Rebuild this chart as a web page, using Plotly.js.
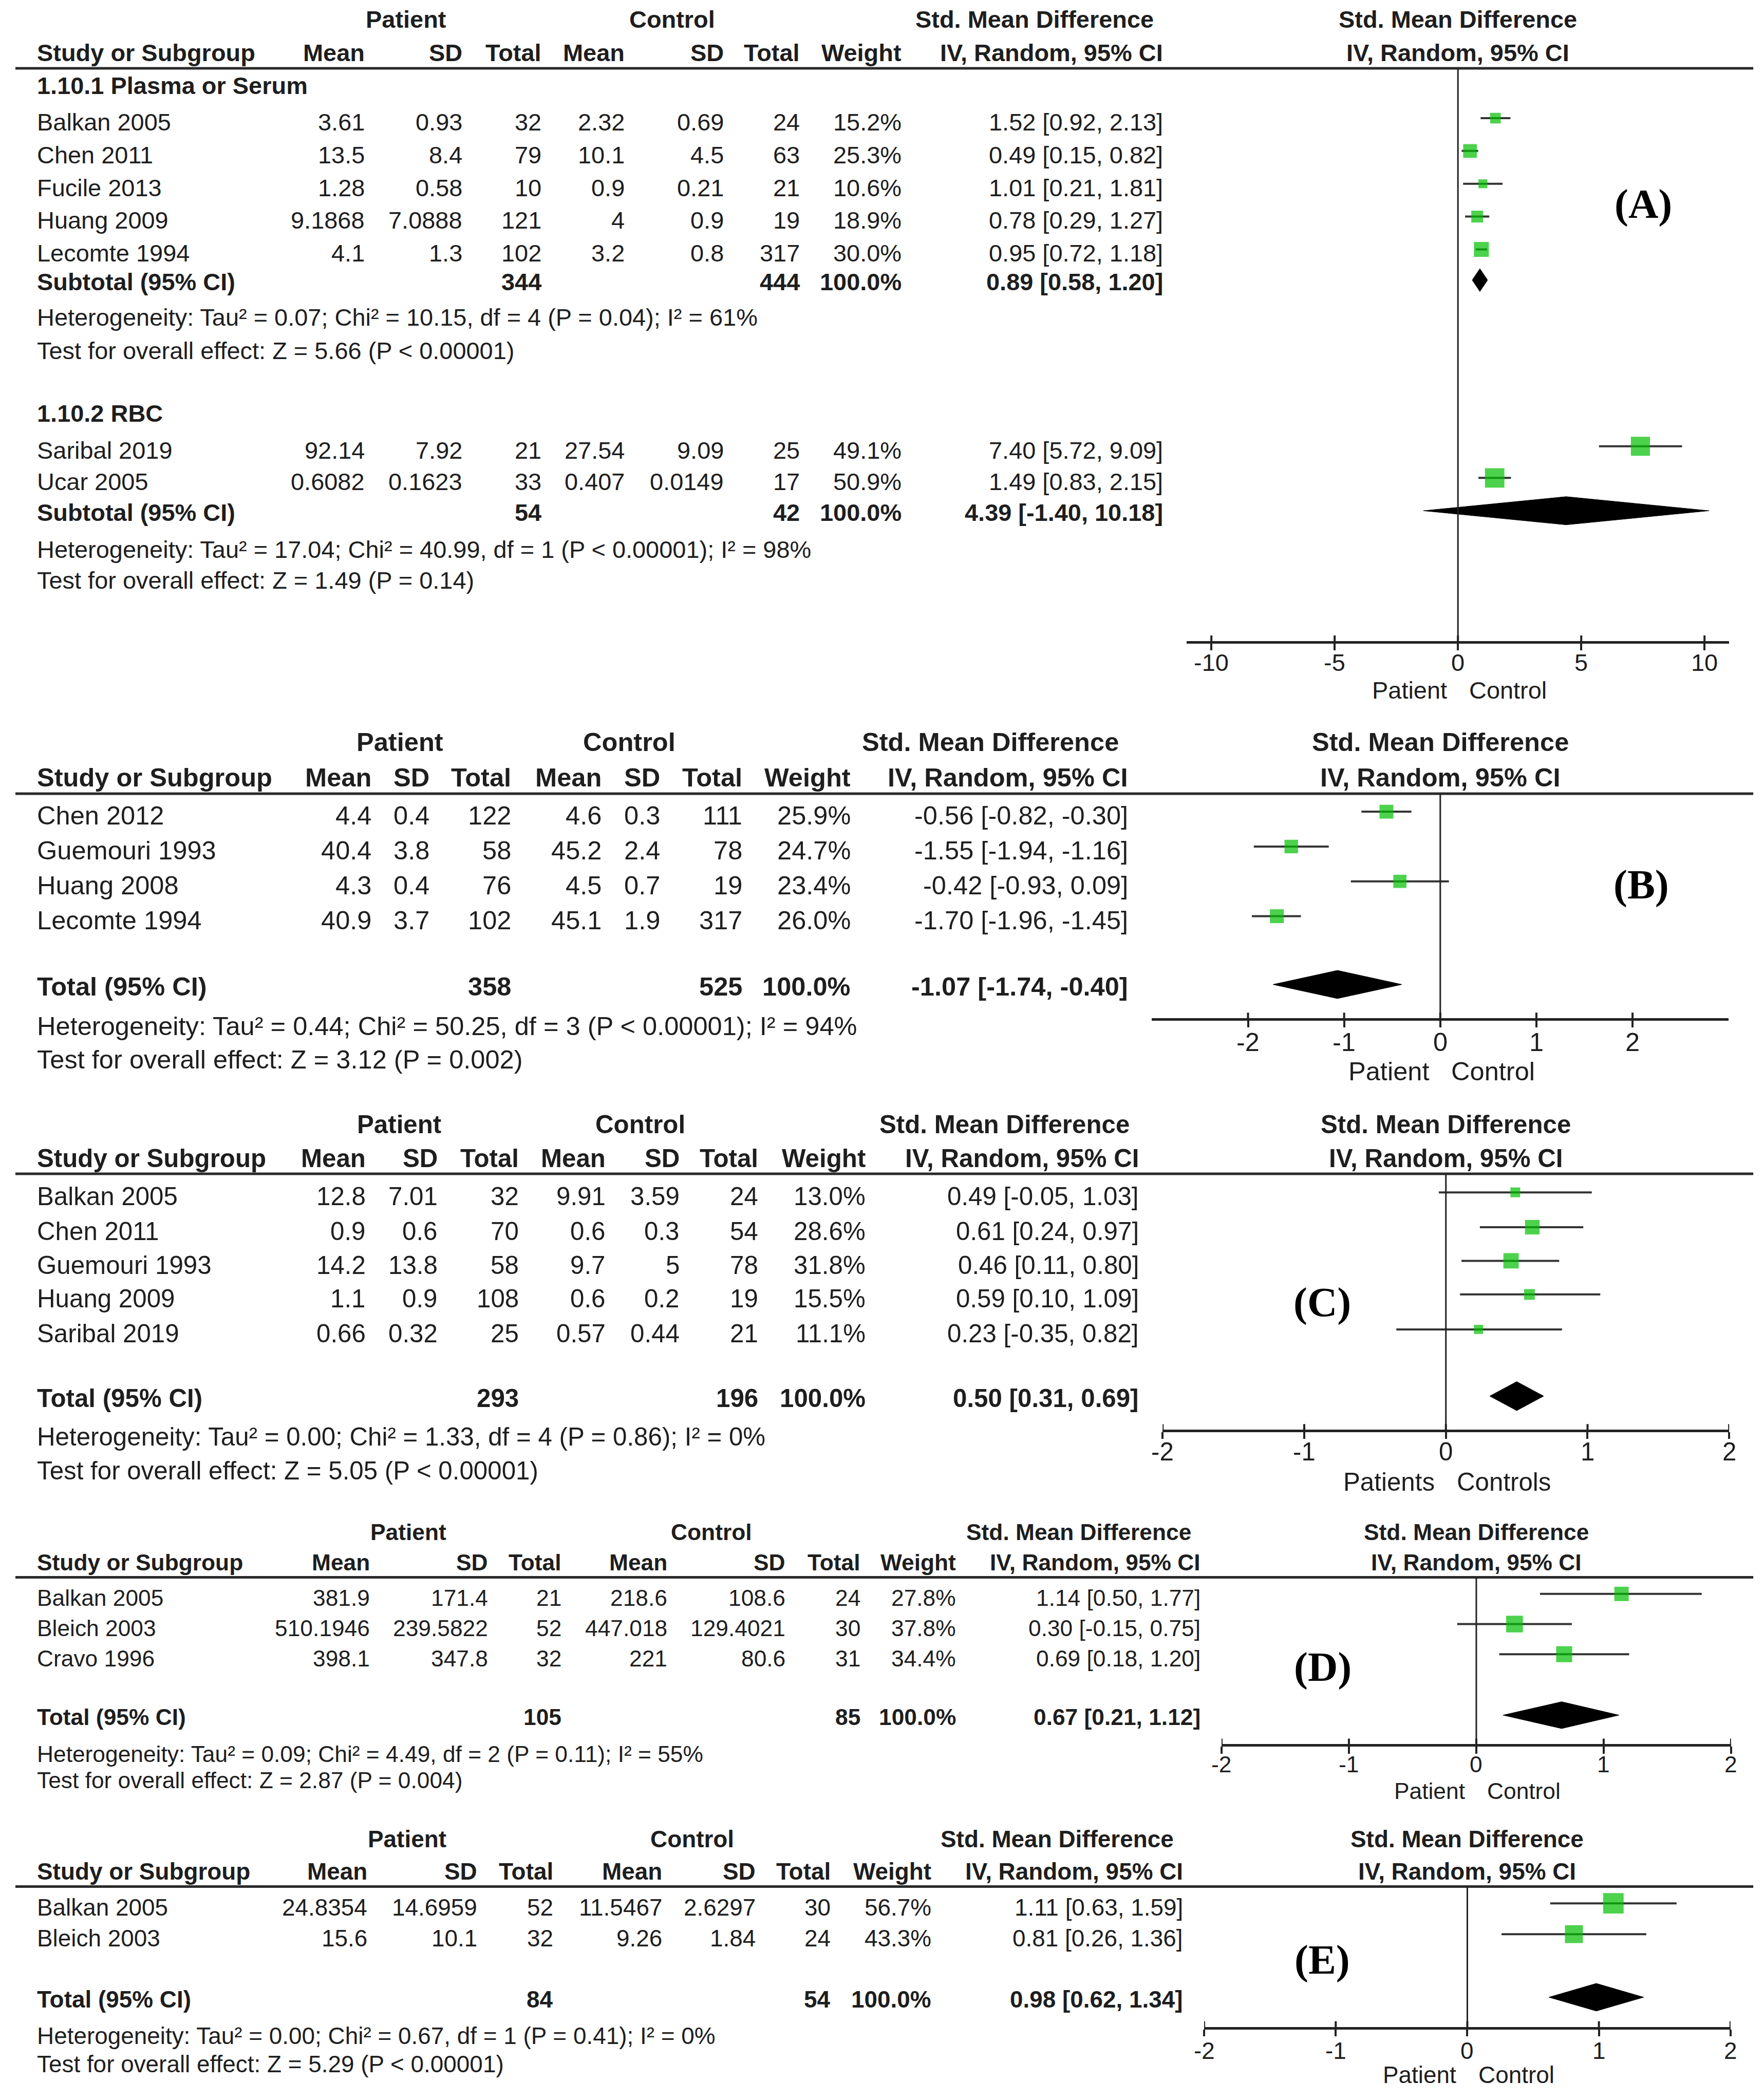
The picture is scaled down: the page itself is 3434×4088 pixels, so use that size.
<!DOCTYPE html>
<html><head><meta charset="utf-8">
<script src="https://cdn.plot.ly/plotly-3.0.1.min.js"></script>
<style>html,body{margin:0;padding:0;background:#fff}</style>
</head><body><div id="chart" style="width:3434px;height:4088px"></div>
<script>
// ===================== DATA =====================
// Panel A, subgroup 1.10.1
const A1_label = '1.10.1 Plasma or Serum';
const A1_study = ['Balkan 2005','Chen 2011','Fucile 2013','Huang 2009','Lecomte 1994'];
const A1_pMean = ['3.61','13.5','1.28','9.1868','4.1'];
const A1_pSD   = ['0.93','8.4','0.58','7.0888','1.3'];
const A1_pN    = [32,79,10,121,102];
const A1_cMean = ['2.32','10.1','0.9','4','3.2'];
const A1_cSD   = ['0.69','4.5','0.21','0.9','0.8'];
const A1_cN    = [24,63,21,19,317];
const A1_weight= [15.2,25.3,10.6,18.9,30.0];
const A1_smd   = [1.52,0.49,1.01,0.78,0.95];
const A1_lo    = [0.92,0.15,0.21,0.29,0.72];
const A1_hi    = [2.13,0.82,1.81,1.27,1.18];
const A1_pooled= [0.89,0.58,1.20];
const A1_het   = 'Heterogeneity: Tau² = 0.07; Chi² = 10.15, df = 4 (P = 0.04); I² = 61%';
const A1_test  = 'Test for overall effect: Z = 5.66 (P < 0.00001)';

// Panel A, subgroup 1.10.2
const A2_label = '1.10.2 RBC';
const A2_study = ['Saribal 2019','Ucar 2005'];
const A2_pMean = ['92.14','0.6082'];
const A2_pSD   = ['7.92','0.1623'];
const A2_pN    = [21,33];
const A2_cMean = ['27.54','0.407'];
const A2_cSD   = ['9.09','0.0149'];
const A2_cN    = [25,17];
const A2_weight= [49.1,50.9];
const A2_smd   = [7.40,1.49];
const A2_lo    = [5.72,0.83];
const A2_hi    = [9.09,2.15];
const A2_pooled= [4.39,-1.40,10.18];
const A2_het   = 'Heterogeneity: Tau² = 17.04; Chi² = 40.99, df = 1 (P < 0.00001); I² = 98%';
const A2_test  = 'Test for overall effect: Z = 1.49 (P = 0.14)';

// Panel B
const B_study = ['Chen 2012','Guemouri 1993','Huang 2008','Lecomte 1994'];
const B_pMean = ['4.4','40.4','4.3','40.9'];
const B_pSD   = ['0.4','3.8','0.4','3.7'];
const B_pN    = [122,58,76,102];
const B_cMean = ['4.6','45.2','4.5','45.1'];
const B_cSD   = ['0.3','2.4','0.7','1.9'];
const B_cN    = [111,78,19,317];
const B_weight= [25.9,24.7,23.4,26.0];
const B_smd   = [-0.56,-1.55,-0.42,-1.70];
const B_lo    = [-0.82,-1.94,-0.93,-1.96];
const B_hi    = [-0.30,-1.16,0.09,-1.45];
const B_pooled= [-1.07,-1.74,-0.40];
const B_het   = 'Heterogeneity: Tau² = 0.44; Chi² = 50.25, df = 3 (P < 0.00001); I² = 94%';
const B_test  = 'Test for overall effect: Z = 3.12 (P = 0.002)';

// Panel C
const C_study = ['Balkan 2005','Chen 2011','Guemouri 1993','Huang 2009','Saribal 2019'];
const C_pMean = ['12.8','0.9','14.2','1.1','0.66'];
const C_pSD   = ['7.01','0.6','13.8','0.9','0.32'];
const C_pN    = [32,70,58,108,25];
const C_cMean = ['9.91','0.6','9.7','0.6','0.57'];
const C_cSD   = ['3.59','0.3','5','0.2','0.44'];
const C_cN    = [24,54,78,19,21];
const C_weight= [13.0,28.6,31.8,15.5,11.1];
const C_smd   = [0.49,0.61,0.46,0.59,0.23];
const C_lo    = [-0.05,0.24,0.11,0.10,-0.35];
const C_hi    = [1.03,0.97,0.80,1.09,0.82];
const C_pooled= [0.50,0.31,0.69];
const C_het   = 'Heterogeneity: Tau² = 0.00; Chi² = 1.33, df = 4 (P = 0.86); I² = 0%';
const C_test  = 'Test for overall effect: Z = 5.05 (P < 0.00001)';

// Panel D
const D_study = ['Balkan 2005','Bleich 2003','Cravo 1996'];
const D_pMean = ['381.9','510.1946','398.1'];
const D_pSD   = ['171.4','239.5822','347.8'];
const D_pN    = [21,52,32];
const D_cMean = ['218.6','447.018','221'];
const D_cSD   = ['108.6','129.4021','80.6'];
const D_cN    = [24,30,31];
const D_weight= [27.8,37.8,34.4];
const D_smd   = [1.14,0.30,0.69];
const D_lo    = [0.50,-0.15,0.18];
const D_hi    = [1.77,0.75,1.20];
const D_pooled= [0.67,0.21,1.12];
const D_het   = 'Heterogeneity: Tau² = 0.09; Chi² = 4.49, df = 2 (P = 0.11); I² = 55%';
const D_test  = 'Test for overall effect: Z = 2.87 (P = 0.004)';

// Panel E
const E_study = ['Balkan 2005','Bleich 2003'];
const E_pMean = ['24.8354','15.6'];
const E_pSD   = ['14.6959','10.1'];
const E_pN    = [52,32];
const E_cMean = ['11.5467','9.26'];
const E_cSD   = ['2.6297','1.84'];
const E_cN    = [30,24];
const E_weight= [56.7,43.3];
const E_smd   = [1.11,0.81];
const E_lo    = [0.63,0.26];
const E_hi    = [1.59,1.36];
const E_pooled= [0.98,0.62,1.34];
const E_het   = 'Heterogeneity: Tau² = 0.00; Chi² = 0.67, df = 1 (P = 0.41); I² = 0%';
const E_test  = 'Test for overall effect: Z = 5.29 (P < 0.00001)';

// Axis ticks and labels
const ticksA = [-10,-5,0,5,10];
const ticksB = [-2,-1,0,1,2];
const ticksC = [-2,-1,0,1,2];
const ticksD = [-2,-1,0,1,2];
const ticksE = [-2,-1,0,1,2];
const sideLabels  = ['Patient','Control'];
const sideLabelsC = ['Patients','Controls'];
const panelLetters = ['(A)','(B)','(C)','(D)','(E)'];
const colHeaders = ['Mean','SD','Total','Mean','SD','Total','Weight','IV, Random, 95% CI'];

// ===================== LAYOUT =====================
const W = 3434, H = 4088, S = W/1317, H0 = H/S;
const px = v => v*S;
const PX = x => x/1317;
const PY = y => 1 - y/H0;
const FONT = '"Liberation Sans", Arial, sans-serif';
const SERIF = '"Liberation Serif", "Times New Roman", serif';
const INK = '#1e1e1e';
const GREEN = '#00bf00';

const annotations = [], shapes = [], traces = [];
const layout = {
  width: W, height: H, margin: {l:0, r:0, t:0, b:0},
  paper_bgcolor: '#ffffff', plot_bgcolor: 'rgba(0,0,0,0)', showlegend: false,
  yaxis: {domain:[0,1], range:[H0,0], visible:false, fixedrange:true, anchor:'free', position:0},
  annotations, shapes
};

function txt(x, y, text, fs, anchor) {
  annotations.push({xref:'paper', yref:'paper', x:PX(x), y:PY(y), text:text, showarrow:false,
    xanchor:anchor||'left', yanchor:'middle', font:{family:FONT, size:fs, color:INK}});
}
const bold = s => '<b>' + s + '</b>';
const ciText = (m,l,h) => m.toFixed(2) + ' [' + l.toFixed(2) + ', ' + h.toFixed(2) + ']';
const sum = a => a.reduce((s,v)=>s+v,0);

function group(label, study, pMean, pSD, pN, cMean, cSD, cN, weight, smd, lo, hi, pooled, het, test, totLabel) {
  return {label, study, pMean, pSD, pN, cMean, cSD, cN, weight, smd, lo, hi, pooled, het, test, totLabel};
}

const panels = [
  { groups: [
      group(A1_label, A1_study, A1_pMean, A1_pSD, A1_pN, A1_cMean, A1_cSD, A1_cN, A1_weight, A1_smd, A1_lo, A1_hi, A1_pooled, A1_het, A1_test, 'Subtotal (95% CI)'),
      group(A2_label, A2_study, A2_pMean, A2_pSD, A2_pN, A2_cMean, A2_cSD, A2_cN, A2_weight, A2_smd, A2_lo, A2_hi, A2_pooled, A2_het, A2_test, 'Subtotal (95% CI)')],
    geo: {x0:886, x1:1291, range:[-11,11], ticks:ticksA, axisY:479.4, tickLabY:494.8, titleY:515.4, lineY:51, h1:14.6, h2:39.4, fs:18,
      labelPos:[1227,152.4], cols:[273,346,405,467,541,598,674,869], patientX:303, controlX:502, sides:sideLabels, dh:[8.5,10.5],
      rows:[{labelY:64.2, rows:[91.2,115.7,140.2,164.7,189.2], totY:210.6, hetY:237.2, testY:262},
            {labelY:308.7, rows:[336.2,359.8], totY:382.8, hetY:410.4, testY:433.4}]}},
  { groups: [group(null, B_study, B_pMean, B_pSD, B_pN, B_cMean, B_cSD, B_cN, B_weight, B_smd, B_lo, B_hi, B_pooled, B_het, B_test, 'Total (95% CI)')],
    geo: {x0:860, x1:1290.6, range:[-3,3], ticks:ticksB, axisY:761, tickLabY:777.8, titleY:800, lineY:592.5, h1:554, h2:580.5, fs:19.4,
      labelPos:[1225.5,660.4], cols:[278,321.5,382.5,450,493.5,555,636,843], patientX:298.5, controlX:470, sides:sideLabels, dh:[10.5],
      rows:[{rows:[609,635,661,687], totY:736.5, hetY:766, testY:791}]}},
  { groups: [group(null, C_study, C_pMean, C_pSD, C_pN, C_cMean, C_cSD, C_cN, C_weight, C_smd, C_lo, C_hi, C_pooled, C_het, C_test, 'Total (95% CI)')],
    geo: {x0:868, x1:1291, range:[-2,2], ticks:ticksC, axisY:1068.2, tickLabY:1083.8, titleY:1106.4, lineY:876.3, h1:839.3, h2:864.5, fs:18.9,
      labelPos:[987,972.3], cols:[274,327.5,388,453,508,567,647,851], patientX:298, controlX:478, sides:sideLabelsC, dh:[10.8],
      rows:[{rows:[893.2,919.2,944.3,969.4,995.5], totY:1043.8, hetY:1072.6, testY:1097.7}]}},
  { groups: [group(null, D_study, D_pMean, D_pSD, D_pN, D_cMean, D_cSD, D_cN, D_weight, D_smd, D_lo, D_hi, D_pooled, D_het, D_test, 'Total (95% CI)')],
    geo: {x0:912, x1:1292.4, range:[-2,2], ticks:ticksD, axisY:1303, tickLabY:1317, titleY:1337, lineY:1177.6, h1:1143.8, h2:1166.5, fs:17,
      labelPos:[987.5,1244.5], cols:[277,365,420,499,587,643,714.5,897], patientX:305, controlX:531, sides:sideLabels, dh:[10],
      rows:[{rows:[1193,1215.5,1238], totY:1282, hetY:1309.7, testY:1329}]}},
  { groups: [group(null, E_study, E_pMean, E_pSD, E_pN, E_cMean, E_cSD, E_cN, E_weight, E_smd, E_lo, E_hi, E_pooled, E_het, E_test, 'Total (95% CI)')],
    geo: {x0:899, x1:1292, range:[-2,2], ticks:ticksE, axisY:1514, tickLabY:1531, titleY:1549, lineY:1408.5, h1:1373, h2:1397, fs:17.6,
      labelPos:[987,1463], cols:[275,357,414,495,565,621,696,884], patientX:304, controlX:516.7, sides:sideLabels, dh:[10.3],
      rows:[{rows:[1424,1447], totY:1492.6, hetY:1520, testY:1541}]}}
];

panels.forEach((p, idx) => {
  const g = p.geo;
  const axId = idx === 0 ? 'x' : 'x' + (idx+1);
  const axKey = idx === 0 ? 'xaxis' : 'xaxis' + (idx+1);
  const fs = px(g.fs);

  // table headers
  txt(g.patientX, g.h1, bold('Patient'), fs, 'center');
  txt(g.controlX, g.h1, bold('Control'), fs, 'center');
  txt(g.cols[7] - 7, g.h1, bold('Std. Mean Difference'), fs, 'right');
  txt(27, g.h2, bold('Study or Subgroup'), fs, 'left');
  colHeaders.forEach((h, i) => txt(g.cols[i], g.h2, bold(h), fs, 'right'));

  // forest headers centred on the null line
  [[g.h1, 'Std. Mean Difference'], [g.h2, 'IV, Random, 95% CI']].forEach(([y, t]) => {
    annotations.push({xref:axId, yref:'paper', x:0, y:PY(y), text:bold(t), showarrow:false,
      xanchor:'center', yanchor:'middle', font:{family:FONT, size:fs, color:INK}});
  });

  // header rule
  shapes.push({type:'line', xref:'paper', yref:'paper', x0:PX(11.5), x1:PX(1309), y0:PY(g.lineY), y1:PY(g.lineY),
    line:{color:'#2a2a2a', width:5}});
  // null line
  shapes.push({type:'line', xref:axId, yref:'y', x0:0, x1:0, y0:g.lineY, y1:g.axisY, line:{color:'#222', width:3}});
  // upper halves of the crossing tick marks
  g.ticks.forEach(t => shapes.push({type:'line', xref:axId, yref:'y', x0:t, x1:t, y0:g.axisY - 5, y1:g.axisY,
    line:{color:'#222', width:4}}));

  // axis (line + lower tick halves); tick labels placed as annotations at the axis values
  layout[axKey] = {
    domain:[PX(g.x0), PX(g.x1)], range:g.range, anchor:'free', position:PY(g.axisY),
    showline:true, linewidth:5, linecolor:'#222',
    ticks:'outside', ticklen:px(5), tickwidth:4, tickcolor:'#222',
    tickmode:'array', tickvals:g.ticks, showticklabels:false,
    showgrid:false, zeroline:false, fixedrange:true
  };
  g.ticks.forEach(t => annotations.push({xref:axId, yref:'paper', x:t, y:PY(g.tickLabY), text:String(t),
    showarrow:false, xanchor:'center', yanchor:'middle', font:{family:FONT, size:fs, color:INK}}));

  // Patient / Control labels on either side of the null line
  annotations.push({xref:axId, yref:'paper', x:0, y:PY(g.titleY), text:g.sides[0], showarrow:false,
    xanchor:'right', yanchor:'middle', xshift:-px(7.5), font:{family:FONT, size:fs, color:INK}});
  annotations.push({xref:axId, yref:'paper', x:0, y:PY(g.titleY), text:g.sides[1], showarrow:false,
    xanchor:'left', yanchor:'middle', xshift:px(7.5), font:{family:FONT, size:fs, color:INK}});

  // panel letter
  annotations.push({xref:'paper', yref:'paper', x:PX(g.labelPos[0]), y:PY(g.labelPos[1]), text:bold(panelLetters[idx]),
    showarrow:false, xanchor:'center', yanchor:'middle', font:{family:SERIF, size:px(31), color:'#000'}});

  const ciX = [], ciY = [], mX = [], mY = [], mS = [];
  p.groups.forEach((gr, gi) => {
    const r = g.rows[gi];
    if (gr.label) txt(27, r.labelY, bold(gr.label), fs, 'left');
    gr.study.forEach((s, i) => {
      const y = r.rows[i];
      txt(27, y, s, fs, 'left');
      const vals = [gr.pMean[i], gr.pSD[i], gr.pN[i], gr.cMean[i], gr.cSD[i], gr.cN[i],
                    gr.weight[i].toFixed(1) + '%', ciText(gr.smd[i], gr.lo[i], gr.hi[i])];
      vals.forEach((v, j) => txt(g.cols[j], y, String(v), fs, 'right'));
      ciX.push(gr.lo[i], gr.hi[i], null); ciY.push(y - 3, y - 3, null);
      mX.push(gr.smd[i]); mY.push(y - 3); mS.push(5.3 * Math.sqrt(gr.weight[i]));
    });
    // total row
    txt(27, r.totY, bold(gr.totLabel), fs, 'left');
    txt(g.cols[2], r.totY, bold(String(sum(gr.pN))), fs, 'right');
    txt(g.cols[5], r.totY, bold(String(sum(gr.cN))), fs, 'right');
    txt(g.cols[6], r.totY, bold(sum(gr.weight).toFixed(1) + '%'), fs, 'right');
    txt(g.cols[7], r.totY, bold(ciText(gr.pooled[0], gr.pooled[1], gr.pooled[2])), fs, 'right');
    txt(27, r.hetY, gr.het, fs, 'left');
    txt(27, r.testY, gr.test, fs, 'left');
    // diamond
    const yc = r.totY - 1.5, dh = g.dh[gi];
    traces.push({type:'scatter', mode:'lines', xaxis:axId, yaxis:'y', hoverinfo:'skip',
      x:[gr.pooled[1], gr.pooled[0], gr.pooled[2], gr.pooled[0], gr.pooled[1]],
      y:[yc, yc - dh, yc, yc + dh, yc], fill:'toself', fillcolor:'#000', line:{color:'#000', width:1}});
  });
  traces.push({type:'scatter', mode:'lines', xaxis:axId, yaxis:'y', x:ciX, y:ciY, hoverinfo:'skip',
    line:{color:'#333', width:4}});
  traces.push({type:'scatter', mode:'markers', xaxis:axId, yaxis:'y', x:mX, y:mY, hoverinfo:'skip',
    marker:{symbol:'square', size:mS, color:GREEN, line:{width:0}}});
});

Plotly.newPlot('chart', traces, layout, {staticPlot:true, displayModeBar:false});
</script>
</body></html>
